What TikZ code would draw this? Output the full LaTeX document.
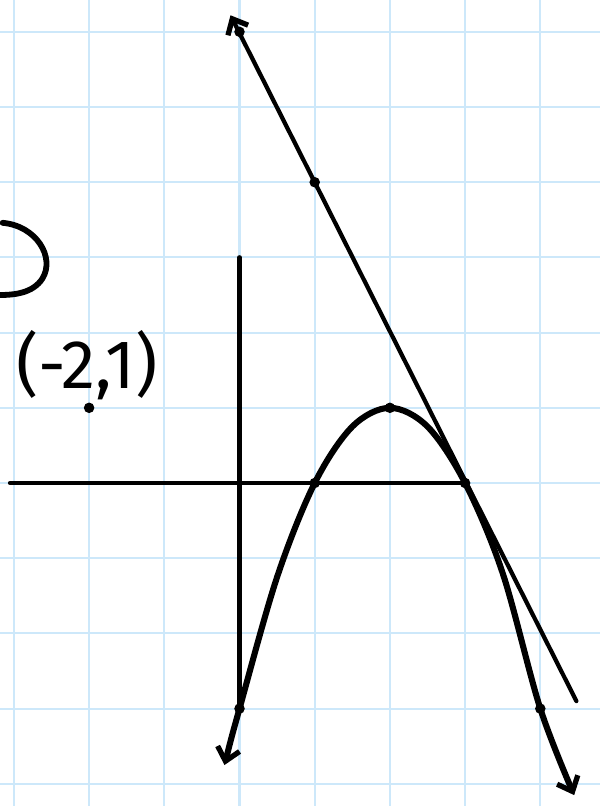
\documentclass[tikz,border=0pt]{standalone}
\usepackage{fontspec}
\setmainfont{Fira Sans}
\usetikzlibrary{arrows.meta}
\definecolor{GridBlue}{HTML}{CDE8FA}

\begin{document}
\begin{tikzpicture}[x=1cm,y=1cm,
  dot/.style={circle,fill=black,inner sep=0pt,minimum size=0.14cm},
  ink/.style={line width=1.6pt,line cap=round,line join=round},
  barb/.tip={Straight Barb[length=1.7mm,width=3mm,line width=2pt]}]
  \useasboundingbox (-3.185,-4.295) rectangle (4.794,6.423);
  \clip (-3.185,-4.295) rectangle (4.794,6.423);
  % grid paper
  \foreach \x in {-3,...,4}
    \draw[GridBlue,line width=0.8pt] (\x,-4.295) -- (\x,6.423);
  \foreach \y in {-4,...,6}
    \draw[GridBlue,line width=0.8pt] (-3.185,\y) -- (4.794,\y);
  % axes
  \coordinate (xl) at (-3.05,0);
  \coordinate (xr) at (3.02,0);
  \coordinate (yt) at (0,3);
  \coordinate (yb) at (0,-3.02);
  \draw[ink,line width=1.7pt] (xl) -- (xr);
  \draw[ink,line width=1.7pt] (yt) -- (yb);
  % line
  \coordinate (ltop) at (-0.12,6.22);
  \coordinate (lbot) at (4.48,-2.9);
  \draw[ink,barb-] (ltop) -- (lbot);
  % parabola
  \draw[ink,line width=2.3pt,barb-barb] plot[smooth,tension=0.55] coordinates
    {(-0.2,-3.75) (0,-3) (0.5,-1.25) (1,0) (1.5,0.75) (2,1) (2.5,0.75) (3,0)
     (3.5,-1.2) (4,-3) (4.45,-4.15)};
  % points
  \foreach \n/\p in {lineA/{(0,6)},lineB/{(1,4)},rootL/{(1,0)},vertex/{(2,1)},
                     rootR/{(3,0)},yint/{(0,-3)},mirror/{(4,-3)},given/{(-2,1)}}
    \node[dot] (\n) at \p {};
  \node[font=\fontsize{26}{30}\selectfont] (lab) at (-2.03,1.57) {(-2,1)};
  % leftover stroke at the edge
  \draw[line width=2.2pt,line cap=round] (-3.15,3.46) .. controls (-2.7,3.42) and (-2.45,3.0) .. (-2.62,2.72)
    .. controls (-2.75,2.52) and (-3.0,2.5) .. (-3.2,2.5);
\end{tikzpicture}
\end{document}
